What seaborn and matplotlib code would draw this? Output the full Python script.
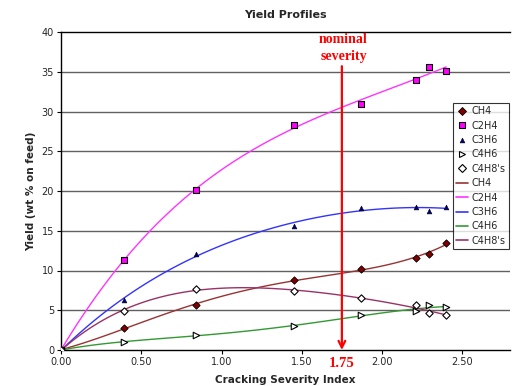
import matplotlib
matplotlib.use("Agg")
import matplotlib.pyplot as plt
import seaborn as sns
import numpy as np
import pandas as pd
from matplotlib.lines import Line2D

severity = [0.0, 0.39, 0.84, 1.45, 1.87, 2.21, 2.29, 2.40]
ch4 = [0.0, 2.8, 5.6, 8.8, 10.15, 11.6, 12.1, 13.45]
c2h4 = [0.0, 11.3, 20.1, 28.3, 30.9, 34.0, 35.6, 35.1]
c3h6 = [0.0, 6.3, 12.1, 15.6, 17.9, 18.0, 17.5, 18.0]
c4h6 = [0.0, 1.0, 1.85, 3.0, 4.4, 4.9, 5.6, 5.4]
c4h8s = [0.0, 4.9, 7.7, 7.4, 6.5, 5.6, 4.7, 4.4]
names = ["CH4", "C2H4", "C3H6", "C4H6", "C4H8's"]
nominal = 1.75

series = [ch4, c2h4, c3h6, c4h6, c4h8s]
marker_styles = [
    dict(marker="D", s=14, color="#800000", edgecolor="black", linewidth=0.6),
    dict(marker="s", s=22, color="#ff00ff", edgecolor="black", linewidth=0.8),
    dict(marker="^", s=12, color="#000080", edgecolor="black", linewidth=0.4),
    dict(marker=">", s=22, color="white", edgecolor="black", linewidth=0.8),
    dict(marker="D", s=14, color="white", edgecolor="black", linewidth=0.8),
]
line_colors = ["#993333", "#ff33ff", "#3333ff", "#339933", "#993366"]

df = pd.DataFrame({"x": severity})
for n, s in zip(names, series):
    df[n] = s

sns.set_style("white")
plt.rcParams["font.family"] = ["DejaVu Sans"]
fig = plt.figure(figsize=(5.12, 3.86), dpi=100)
ax = fig.add_axes([61 / 512, 1 - 350 / 386, (510.4 - 61) / 512, (350 - 32) / 386])

for yv in range(5, 40, 5):
    ax.axhline(yv, color="#606060", lw=1.0, zorder=0)

for n, c in zip(names, line_colors):
    sns.regplot(data=df, x="x", y=n, order=4, ci=None, scatter=False, truncate=True,
                ax=ax, line_kws=dict(color=c, lw=1.0, zorder=2))

for n, st in zip(names, marker_styles):
    sns.scatterplot(data=df, x="x", y=n, ax=ax, zorder=3, legend=False, **st)

ax.set_xlim(0, 2.8)
ax.set_ylim(0, 40)
ax.set_xticks([0, 0.5, 1.0, 1.5, 2.0, 2.5])
ax.set_xticklabels(["0.00", "0.50", "1.00", "1.50", "2.00", "2.50"])
ax.set_yticks(range(0, 41, 5))
ax.tick_params(axis="both", labelsize=7, length=3, width=0.8, color="black", pad=2,
               direction="out", bottom=True, left=True)
for side in ["left", "bottom", "top"]:
    ax.spines[side].set_color("black")
    ax.spines[side].set_linewidth(1.0)
ax.spines["right"].set_visible(False)

ax.set_xlabel("Cracking Severity Index", fontsize=7.5, fontweight="bold", labelpad=5.5)
ax.set_ylabel("Yield (wt % on feed)", fontsize=7.5, fontweight="bold", labelpad=4)
ax.set_title("Yield Profiles", fontsize=8, fontweight="bold", pad=10)

ax.annotate("", xy=(nominal, 0), xytext=(nominal, 35.7),
            arrowprops=dict(arrowstyle="->", color="red", lw=1.6, mutation_scale=12,
                            shrinkA=0, shrinkB=0), zorder=4)
ax.text(nominal + 0.01, 38.0, "nominal\nseverity", color="red", fontsize=10, fontweight="bold",
        family="Liberation Serif", ha="center", va="center", linespacing=1.35)
ax.text(nominal, -0.9, "1.75", color="red", fontsize=10.5, fontweight="bold",
        family="Liberation Serif", ha="center", va="top")

handles = []
for n, st in zip(names, marker_styles):
    handles.append(Line2D([], [], ls="none", marker=st["marker"], markersize=np.sqrt(st["s"]),
                          markerfacecolor=st["color"], markeredgecolor="black",
                          markeredgewidth=st["linewidth"], label=n))
for n, c in zip(names, line_colors):
    handles.append(Line2D([], [], color=c, lw=1.2, label=n))
leg = ax.legend(handles=handles, loc="upper left", bbox_to_anchor=(0.872, 0.777),
                fontsize=7, frameon=True, fancybox=False, edgecolor="black",
                handlelength=1.2, handletextpad=0.4, labelspacing=0.45,
                borderpad=0.35, borderaxespad=0)
leg.get_frame().set_linewidth(0.8)

fig.savefig("out.png", dpi=100)
